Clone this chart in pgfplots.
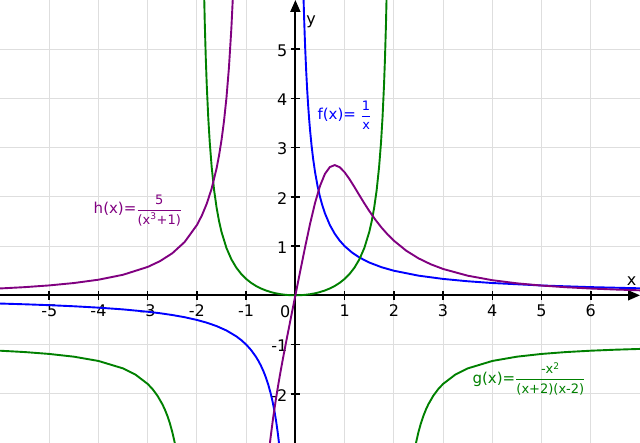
\documentclass[border=0pt]{standalone}
\usepackage{pgfplots}
\pgfplotsset{compat=1.18}
\usepackage{amsmath}
\usepackage{fontspec}
\setmainfont{DejaVu Sans}
\usetikzlibrary{arrows.meta}
\definecolor{fblue}{RGB}{0,0,255}
\definecolor{ggreen}{RGB}{0,128,0}
\definecolor{hpurple}{RGB}{128,0,128}
\definecolor{gridgray}{RGB}{222,222,222}
\newcommand\ffrac[2]{$\genfrac{}{}{0.8pt}{0}{\hbox{\fontsize{13}{14}\selectfont #1}}{\hbox{\fontsize{13}{14}\selectfont #2}}$}

\begin{document}
\begin{tikzpicture}
\begin{axis}[
  x=49.23pt, y=49.22pt,
  xmin=-6, xmax=7, ymin=-3, ymax=6,
  axis lines=middle,
  axis line style={black, line width=1.8pt, -{Triangle[length=12pt,width=10pt]}},
  xtick={-5,-4,-3,-2,-1,1,2,3,4,5,6},
  xticklabels={-5,-4,-3,-2,-1,1,2,3,4,5,6},
  ytick={-2,-1,1,2,3,4,5},
  yticklabels={-2,-1,1,2,3,4,5},
  grid=major,
  grid style={gridgray, line width=1pt},
  major tick length=9pt,
  tick style={black, line width=1.5pt},
  tick align=center,
  xticklabel style={font=\fontsize{16}{19}\selectfont, anchor=north, yshift=-1pt},
  yticklabel style={font=\fontsize{16}{19}\selectfont, anchor=east, yshift=-1.5pt},
  clip=true,
]
% f(x) = 1/x
\addplot[fblue, line width=1.9pt, line join=round] coordinates {
(-6,-0.1667) (-5.5,-0.1818) (-5,-0.2) (-4.5,-0.2222) (-4,-0.25) (-3.5,-0.2857) (-3,-0.3333) (-2.75,-0.3636) (-2.5,-0.4) (-2.25,-0.4444) (-2,-0.5) (-1.8,-0.5556) (-1.6,-0.625) (-1.4,-0.7143) (-1.2,-0.8333) (-1.1,-0.9091) (-1,-1) (-0.9,-1.1111) (-0.8,-1.25) (-0.75,-1.3333) (-0.7,-1.4286) (-0.65,-1.5385) (-0.6,-1.6667) (-0.55,-1.8182) (-0.5,-2) (-0.46,-2.1739) (-0.42,-2.381) (-0.39,-2.5641) (-0.36,-2.7778) (-0.34,-2.9412) (-0.32,-3.125) (-0.3,-3.3333)
};
\addplot[fblue, line width=1.9pt, line join=round] coordinates {
(0.15,6.6667) (0.16,6.25) (0.17,5.8824) (0.18,5.5556) (0.19,5.2632) (0.2,5) (0.22,4.5455) (0.24,4.1667) (0.26,3.8462) (0.28,3.5714) (0.3,3.3333) (0.33,3.0303) (0.36,2.7778) (0.4,2.5) (0.45,2.2222) (0.5,2) (0.55,1.8182) (0.6,1.6667) (0.7,1.4286) (0.8,1.25) (0.9,1.1111) (1,1) (1.15,0.8696) (1.3,0.7692) (1.5,0.6667) (1.75,0.5714) (2,0.5) (2.5,0.4) (3,0.3333) (3.5,0.2857) (4,0.25) (5,0.2) (6,0.1667) (7,0.1429)
};
% g(x)
\addplot[ggreen, line width=1.9pt, line join=round] coordinates {
(-6,-1.125) (-5.5,-1.1524) (-5,-1.1905) (-4.5,-1.2462) (-4,-1.3333) (-3.5,-1.4848) (-3.25,-1.6095) (-3,-1.8) (-2.9,-1.907) (-2.8,-2.0417) (-2.7,-2.2158) (-2.65,-2.3234) (-2.6,-2.4493) (-2.55,-2.5984) (-2.5,-2.7778) (-2.45,-2.9975) (-2.4,-3.2727)
};
\addplot[ggreen, line width=1.9pt, line join=round] coordinates {
(-1.9,9.2564) (-1.88,7.591) (-1.86,6.402) (-1.84,5.5104) (-1.82,4.8173) (-1.8,4.2632) (-1.77,3.6131) (-1.74,3.1135) (-1.7,2.6036) (-1.65,2.1311) (-1.6,1.7778) (-1.55,1.5039) (-1.5,1.2857) (-1.4,0.9608) (-1.3,0.7316) (-1.2,0.5625) (-1.1,0.4337) (-1,0.3333) (-0.9,0.2539) (-0.8,0.1905) (-0.7,0.1396) (-0.6,0.0989) (-0.5,0.0667) (-0.4,0.0417) (-0.3,0.023) (-0.2,0.0101) (-0.1,0.0025) (0,0)
(0.1,0.0025) (0.2,0.0101) (0.3,0.023) (0.4,0.0417) (0.5,0.0667) (0.6,0.0989) (0.7,0.1396) (0.8,0.1905) (0.9,0.2539) (1,0.3333) (1.1,0.4337) (1.2,0.5625) (1.3,0.7316) (1.4,0.9608) (1.5,1.2857) (1.55,1.5039) (1.6,1.7778) (1.65,2.1311) (1.7,2.6036) (1.74,3.1135) (1.77,3.6131) (1.8,4.2632) (1.82,4.8173) (1.84,5.5104) (1.86,6.402) (1.88,7.591) (1.9,9.2564)
};
\addplot[ggreen, line width=1.9pt, line join=round] coordinates {
(2.4,-3.2727) (2.45,-2.9975) (2.5,-2.7778) (2.55,-2.5984) (2.6,-2.4493) (2.65,-2.3234) (2.7,-2.2158) (2.8,-2.0417) (2.9,-1.907) (3,-1.8) (3.25,-1.6095) (3.5,-1.4848) (4,-1.3333) (4.5,-1.2462) (5,-1.1905) (5.5,-1.1524) (6,-1.125) (6.5,-1.1046) (7,-1.0889)
};
% h(x)
\addplot[hpurple, line width=1.9pt, line join=round] coordinates {
(-6,0.1395) (-5.5,0.1663) (-5,0.2016) (-4.5,0.2497) (-4,0.3175) (-3.5,0.4179) (-3,0.5769) (-2.75,0.6946) (-2.5,0.8547) (-2.25,1.0827) (-2,1.4286) (-1.9,1.6214) (-1.8,1.8626) (-1.7,2.1722) (-1.6,2.584) (-1.55,2.8452) (-1.5,3.1579) (-1.45,3.539) (-1.4,4.0138) (-1.35,4.6221) (-1.3,5.4302) (-1.27,6.0569) (-1.25,6.5574)
};
\addplot[hpurple, line width=1.9pt, line join=round] coordinates {
(-0.53,-3.1135) (-0.52,-3.0254) (-0.5,-2.8571) (-0.45,-2.4756) (-0.4,-2.1368) (-0.35,-1.8284) (-0.3,-1.5416) (-0.25,-1.2698) (-0.2,-1.0081) (-0.1,-0.5005) (0,0) (0.1,0.4995) (0.2,0.9921) (0.3,1.4606) (0.4,1.8797) (0.5,2.2222) (0.6,2.4671) (0.7,2.6061) (0.8,2.6455) (0.9,2.6027) (1,2.5) (1.1,2.3595) (1.2,2.1994) (1.3,2.0332) (1.4,1.8697) (1.5,1.7143) (1.625,1.5356) (1.75,1.3759) (1.875,1.2349) (2,1.1111) (2.25,0.9079) (2.5,0.7519) (2.75,0.6308) (3,0.5357) (3.5,0.3989) (4,0.3077) (4.5,0.2442) (5,0.1984) (5.5,0.1643) (6,0.1382) (6.5,0.1179) (7,0.1017)
};
% labels
\node[anchor=west, inner sep=0, text=fblue, font=\fontsize{15}{17}\selectfont] at (axis cs:0.447,3.66) {f(x)= \ffrac{1}{x}};
\node[anchor=west, inner sep=0, text=hpurple, font=\fontsize{15}{17}\selectfont] at (axis cs:-4.10,1.73) {h(x)=\ffrac{5}{(x\textsuperscript{3}+1)}};
\node[anchor=west, inner sep=0, text=ggreen, font=\fontsize{15}{17}\selectfont] at (axis cs:3.595,-1.69) {g(x)=\ffrac{-x\textsuperscript{2}}{(x+2)(x-2)}};
\node[anchor=base west, inner sep=0, font=\fontsize{16}{19}\selectfont] at (axis cs:6.73,0.2) {x};
\node[anchor=base west, inner sep=0, font=\fontsize{16}{19}\selectfont] at (axis cs:0.22,5.51) {y};
\node[anchor=north east, inner sep=0, font=\fontsize{16}{19}\selectfont] at (axis cs:-0.1,-0.2) {0};
\end{axis}
\pgfresetboundingbox
\path (current axis.south west) rectangle (current axis.north east);
\end{tikzpicture}
\end{document}
